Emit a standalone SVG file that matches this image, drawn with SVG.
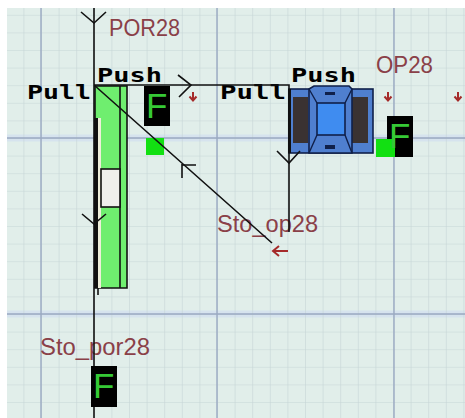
<svg xmlns="http://www.w3.org/2000/svg" width="465" height="418" viewBox="0 0 465 418">
<defs>
<pattern id="minor" x="5.8" y="-2.8" width="17.6" height="17.6" patternUnits="userSpaceOnUse">
<path d="M0 0V17.6M0 0H17.6" fill="none" stroke="#c6d5d6" stroke-width="1.2"/>
</pattern>
<path id="down" d="M0 -4V4M-3.5 0.5L0 4.5L3.5 0.5" fill="none" stroke="#a52a2a" stroke-width="2"/>
</defs>
<style>
.lab{font-family:"Liberation Sans",Arial,sans-serif;font-size:23px;fill:#8a4048}
.pp{font-family:"DejaVu Sans Mono","Liberation Mono",monospace;font-size:19px;font-weight:bold;fill:#000}
.f{font-family:"Liberation Sans",Arial,sans-serif;font-size:35px;fill:#36c936}
.w{fill:none;stroke:#111;stroke-width:1.6}
.g{fill:#6fee6f;stroke:#111;stroke-width:1.6}
.maj{stroke:#9aa9c2;stroke-width:1.4;fill:none}
.glow{stroke:#d6e3ee;stroke-width:7;fill:none}
</style>
<g id="grid">
<rect x="0" y="0" width="465" height="418" fill="#fff"/>
<rect x="7" y="8" width="458" height="410" fill="#e1eeea"/>
<path class="glow" d="M7 138H465M7 314H465"/>
<rect x="7" y="8" width="458" height="410" fill="url(#minor)"/>
<path class="maj" d="M41 8V418M217 8V418M394 8V418M7 138H465M7 314H465"/>
</g>
<g id="storage-por">
<path class="g" d="M95 86H127V288H95Z"/>
<path class="w" d="M120 86V288"/>
<rect x="94" y="118" width="4" height="170" fill="#111"/>
<rect x="98" y="118" width="3" height="170" fill="#eeeeda"/>
<rect x="101" y="169" width="19" height="38" fill="#efefec" stroke="#111" stroke-width="1.6"/>
<path class="w" d="M98 288V295"/>
<text class="pp" x="97" y="82" textLength="65" lengthAdjust="spacingAndGlyphs">Push</text>
<text class="pp" x="27" y="99" textLength="64" lengthAdjust="spacingAndGlyphs">Pull</text>
<text class="lab" x="109" y="36" textLength="71" lengthAdjust="spacingAndGlyphs">POR28</text>
</g>
<g id="f-por"><rect x="144" y="86" width="26" height="40" fill="#000"/><text class="f" x="146" y="118">F</text></g>
<rect id="green-por" x="146" y="138" width="18" height="17" fill="#12e012"/>
<g id="op28">
<rect x="289" y="89" width="84" height="64" fill="#4f7fcf" stroke="#10204a" stroke-width="1.6"/>
<rect x="288" y="89" width="3" height="64" fill="#111"/>
<rect x="293" y="97" width="15" height="46" fill="#3a3232"/>
<rect x="352" y="97" width="16" height="46" fill="#3a3232"/>
<path d="M309 89L314 86H349L352 89V153H309Z" fill="#4f7fcf" stroke="#10204a" stroke-width="1.6"/>
<rect x="317" y="103" width="28" height="32" fill="#3f8cf0" stroke="#10204a" stroke-width="1.6"/>
<path d="M309 89L317 103M352 89L345 103M309 153L317 135M352 153L345 135" stroke="#10204a" stroke-width="1.4"/>
<rect x="325" y="92" width="10" height="3" fill="#10204a"/>
<rect x="325" y="145" width="10" height="4" fill="#10204a"/>
<text class="pp" x="291" y="82" textLength="65" lengthAdjust="spacingAndGlyphs">Push</text>
<text class="pp" x="220" y="99" textLength="66" lengthAdjust="spacingAndGlyphs">Pull</text>
<text class="lab" x="376" y="73" textLength="57" lengthAdjust="spacingAndGlyphs">OP28</text>
</g>
<g id="f-op"><rect x="387" y="116" width="26" height="41" fill="#000"/><rect x="376" y="139" width="19" height="18" fill="#12e012"/><text class="f" x="389" y="148">F</text></g>
<g id="sto-op28"><text class="lab" x="217" y="232" textLength="101" lengthAdjust="spacingAndGlyphs">Sto_op28</text></g>
<g id="sto-por28"><text class="lab" x="40" y="355" textLength="110" lengthAdjust="spacingAndGlyphs">Sto_por28</text></g>
<g id="f-sto"><rect x="91" y="366" width="26" height="41" fill="#000"/><text class="f" x="93" y="398">F</text></g>
<g id="connectors">
<path class="w" d="M94 8V366M94 407V418M94 85H289V232M94 85L272 243"/>
<path class="w" d="M81 12L94 23L106 12M178 75L191 85L179 97M277 151L289 163L300 151M182 164V178M182 165H196M82 214L94 224L106 214"/>
</g>
<g id="flags">
<use href="#down" x="193" y="96"/>
<use href="#down" x="388" y="96"/>
<use href="#down" x="458" y="96"/>
<path d="M288 251H273M279 246L273 251L279 256" fill="none" stroke="#a52a2a" stroke-width="2"/>
</g>
</svg>
